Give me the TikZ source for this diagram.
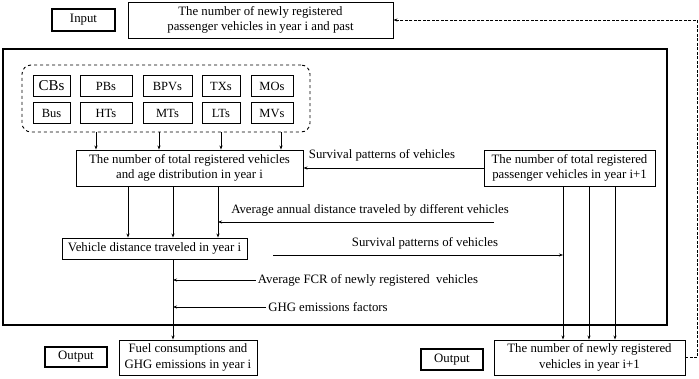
\documentclass[tikz,border=0pt]{standalone}
\usepackage{fontspec}
\setmainfont{Liberation Serif}
\usepackage{tikz}
\usetikzlibrary{arrows.meta, calc}

\tikzset{
    box/.style={draw, line width=0.9pt, align=center, inner sep=1pt,
        font=\fontsize{12.8}{15.5}\selectfont},
    tag/.style={draw, line width=1.7pt, inner sep=1pt,
        font=\fontsize{12.8}{15}\selectfont},
    cat/.style={draw, line width=0.9pt, inner sep=1pt, minimum height=21pt,
        font=\fontsize{12.5}{14}\selectfont},
    lbl/.style={inner sep=2pt, font=\fontsize{12.8}{15}\selectfont},
    arr/.style={-{Stealth[length=4pt, width=3pt]}, line width=0.9pt},
}

\begin{document}
\begin{tikzpicture}[x=1pt, y=-1pt]
\useasboundingbox (0,0) rectangle (699,378);

% Input row
\node[tag, minimum width=63pt, minimum height=22pt] (intag) at (83.5,20) {Input};
\node[box, minimum width=265pt, minimum height=36pt] (inp) at (260.5,20)
    {The number of newly registered\\passenger vehicles in year i and past};

% Model frame
\draw[line width=1.7pt] (3,49) rectangle (667,325);

% Vehicle categories
\node[draw, dashed, line width=0.9pt, rounded corners=9pt,
    minimum width=288pt, minimum height=67pt] (grp) at (166,98.5) {};
\node[cat, minimum width=37pt, font=\fontsize{15}{16}\selectfont] (cbs) at (51.5,86) {CBs};
\foreach \nm/\cx/\bw/\txt in {pbs/106/52/PBs, bpv/167.5/49/BPVs, txs/221/38/TXs, mos/272/42/MOs} {
    \node[cat, minimum width=\bw pt] (\nm) at (\cx,86) {\txt};
}
\foreach \nm/\cx/\bw/\txt in {bus/51.5/37/Bus, hts/106/52/HTs, mts/167.5/49/MTs, lts/221/38/LTs, mvs/272/42/MVs} {
    \node[cat, minimum width=\bw pt] (\nm) at (\cx,113) {\txt};
}

% Stock in year i
\node[box, minimum width=227pt, minimum height=36pt] (tot) at (189.5,168)
    {The number of total registered vehicles\\and age distribution in year i};
\foreach \dx in {-70,-7,55,115} {
    \draw[arr] ([xshift=\dx pt]grp.south) -- ([xshift=\dx pt]grp.south |- tot.north);
}

\node[box, minimum width=171pt, minimum height=36pt] (rb) at (569.5,168)
    {The number of total registered\\passenger vehicles in year i+1};
\draw[arr] (rb.west) -- (tot.east);
\node[lbl] (sv1) at (382,155) {Survival patterns of vehicles};

% Distance travelled
\node[box, minimum width=185pt, minimum height=21pt] (veh) at (154.5,248.5)
    {Vehicle distance traveled in year i};
\coordinate (d1) at ([xshift=-61.5pt]tot.south);
\coordinate (d2) at ([xshift=-16.5pt]tot.south);
\coordinate (d3) at ([xshift=28.5pt]tot.south);
\foreach \c in {d1,d2,d3} {
    \draw[arr] (\c) -- (\c |- veh.north);
}
\node[lbl] (aad) at (370,210) {Average annual distance traveled by different vehicles};
\coordinate (aadend) at (494,222);
\draw[arr] (aadend) -- (aadend -| d3);

% New registrations in year i+1
\node[box, minimum width=191pt, minimum height=35pt] (nb) at (589.5,357.5)
    {The number of newly registered\\vehicles in year i+1};
\coordinate (r1) at ([xshift=-6.5pt]rb.south);
\coordinate (r2) at ([xshift=19.5pt]rb.south);
\coordinate (r3) at ([xshift=45.5pt]rb.south);
\foreach \c in {r1,r2,r3} {
    \draw[arr] (\c) -- (\c |- nb.north);
}
\coordinate (vsv) at (273,255);
\draw[arr] (vsv) -- (vsv -| r1);
\node[lbl] (sv2) at (425,243) {Survival patterns of vehicles};

% Fuel and emissions
\node[box, minimum width=138pt, minimum height=35pt] (fuel) at (188,357.5)
    {Fuel consumptions and\\GHG emissions in year i};
\coordinate (vd) at ([xshift=18.5pt]veh.south);
\draw[arr] (vd) -- (vd |- fuel.north);
\node[lbl] (fcr) at (368,280) {Average FCR of newly registered~ vehicles};
\draw[arr] (fcr.west) -- (fcr.west -| vd);
\node[lbl] (ghg) at (328,307) {GHG emissions factors};
\draw[arr] (ghg.west) -- (ghg.west -| vd);

% Outputs
\node[tag, minimum width=62pt, minimum height=20pt] (out1) at (76,357) {Output};
\node[tag, minimum width=62pt, minimum height=21pt] (out2) at (452,359.5) {Output};

% Feedback to next year
\draw[arr, dash pattern=on 3pt off 1.5pt] (nb.east) -- ++(12pt,0) |- (inp.east);
\end{tikzpicture}
\end{document}
